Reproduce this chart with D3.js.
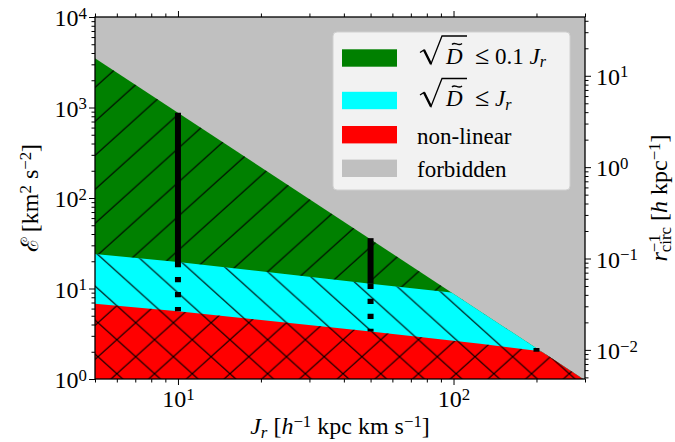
<!DOCTYPE html>
<html>
<head>
<meta charset="utf-8">
<script src="https://cdn.jsdelivr.net/npm/d3@7"></script>
<style>
  body { margin: 0; background: #fff; }
  text { font-family: "Liberation Serif", serif; fill: #000; }
</style>
</head>
<body>
<svg width="675" height="442"></svg>
<script>
// upper edge of the allowed region (above it: forbidden)
var forbiddenJ = [5, 300];
var forbiddenE = [3500, 0.97];
// sqrt(D) <= Jr boundary (top of cyan)
var linearJ = [5, 10, 50, 100, 300];
var linearE = [24, 19.6, 11.3, 9.0, 6.2];
// non-linear boundary (top of red)
var nonlinJ = [5, 10, 50, 125, 200, 300];
var nonlinE = [6.8, 5.6, 3.35, 2.45, 2.05, 1.8];
// black vertical bars: solid from top to mid, dotted from mid to bottom
var barJ = [10, 50, 200];
var barTop = [875, 36, 2.2];
var barMid = [19.6, 11.3, 2.2];
var barBottom = [5.6, 3.35, 2.0];

var xTicks = [10, 100];
var yTicks = [1, 10, 100, 1000, 10000];
var rTicks = [0.01, 0.1, 1, 10];

var legendColors = ["#008000", "#00ffff", "#ff0000", "#c0c0c0"];
var legendLabels = ["\u2264 0.1 ", "\u2264 ", "non-linear", "forbidden"];

var svg = d3.select("svg");
var X0 = 95, X1 = 585, Y0 = 17, Y1 = 379;
var FS = 24;

var x = d3.scaleLog().domain([5, 300]).range([X0, X1]);
var y = d3.scaleLog().domain([1, 1e4]).range([Y1, Y0]);
var yr = d3.scaleLog().domain([0.0048, 44]).range([Y1, Y0]);

var defs = svg.append("defs");
defs.append("clipPath").attr("id", "plot")
    .append("rect").attr("x", X0).attr("y", Y0).attr("width", X1 - X0).attr("height", Y1 - Y0);

var allowed = forbiddenJ.map((j, i) => [x(j), y(forbiddenE[i])]);
defs.append("clipPath").attr("id", "allowed")
    .append("path")
    .attr("d", d3.line()(allowed.concat([[X1, Y1 + 20], [X0, Y1 + 20]])) + "Z");

// hatch patterns
var HW = 37.7, HH = 34;
function hatch(id, d) {
    var p = defs.append("pattern").attr("id", id)
        .attr("patternUnits", "userSpaceOnUse")
        .attr("x", 135.7).attr("y", 322.7)
        .attr("width", HW).attr("height", HH);
    p.append("path").attr("d", d)
        .attr("fill", "none").attr("stroke", "#000").attr("stroke-width", 1.1);
}
var fwd = `M${-HW/2},${HH/2}L${HW/2},${-HH/2}M0,${HH}L${HW},0M${HW/2},${HH*1.5}L${HW*1.5},${HH/2}`;
var back = `M0,0L${HW},${HH}M${HW/2},${-HH/2}L${HW*1.5},${HH/2}M${-HW/2},${HH/2}L${HW/2},${HH*1.5}`;
hatch("h-fwd", fwd);
hatch("h-back", back);
hatch("h-cross", fwd + back);

// background: forbidden
svg.append("rect").attr("x", X0).attr("y", Y0).attr("width", X1 - X0).attr("height", Y1 - Y0)
    .attr("fill", "#c0c0c0");

var regions = svg.append("g").attr("clip-path", "url(#plot)")
    .append("g").attr("clip-path", "url(#allowed)");

var area = d3.area().x(d => x(d[0])).y0(Y1 + 20).y1(d => y(d[1]));

function region(J, E, color, pat) {
    var pts = J.map((j, i) => [j, E[i]]);
    regions.append("path").attr("d", area(pts)).attr("fill", color);
    regions.append("path").attr("d", area(pts)).attr("fill", "url(#" + pat + ")");
}
region([5, 300], [1e5, 1e5], "#008000", "h-fwd");
region(linearJ, linearE, "#00ffff", "h-back");
region(nonlinJ, nonlinE, "#ff0000", "h-cross");

// bars
var bars = barJ.map((j, i) => ({ j: j, top: barTop[i], mid: barMid[i], bot: barBottom[i] }));
var gb = svg.append("g").attr("stroke", "#000").attr("stroke-width", 6);
gb.selectAll(".solid").data(bars).enter().append("line")
    .attr("class", "solid")
    .attr("x1", d => x(d.j)).attr("x2", d => x(d.j))
    .attr("y1", d => y(d.top)).attr("y2", d => y(d.mid));
gb.selectAll(".dot").data(bars).enter().append("line")
    .attr("class", "dot")
    .attr("stroke-dasharray", "5.3,9.7")
    .attr("x1", d => x(d.j)).attr("x2", d => x(d.j))
    .attr("y1", d => y(d.mid)).attr("y2", d => y(d.bot));

// text helpers
function mathText(t, parts, size) {
    var cur = 0, out = [];
    parts.forEach(function (p) {
        var shift = p.sup ? -0.31 * size : p.sub ? 0.15 * size : 0;
        var ts = t.append("tspan").text(p.t);
        if (shift - cur !== 0) ts.attr("dy", shift - cur);
        if (p.sup || p.sub) ts.attr("font-size", size * 0.7);
        if (p.it) ts.attr("font-style", "italic");
        cur = shift;
        out.push(ts);
    });
    return out;
}
function isMajor(v) { return Math.abs(Math.log10(v) - Math.round(Math.log10(v))) < 1e-6; }
function powLabel(sel, v) {
    var e = Math.round(Math.log10(v));
    sel.text(null);
    mathText(sel, [{ t: "10" }, { t: String(e).replace("-", "\u2212"), sup: true }], FS);
}

// axes
function axis(gen, scale, majors, tr, labelFn) {
    var minors = scale.ticks().filter(v => !isMajor(v));
    var g = svg.append("g").attr("transform", tr);
    g.append("g").call(gen(scale).tickValues(minors).tickSize(3.5).tickFormat(""))
        .call(s => s.select(".domain").remove());
    var gm = g.append("g").call(gen(scale).tickValues(majors).tickSize(6))
        .call(s => s.select(".domain").remove())
        .attr("font-size", FS).attr("font-family", "Liberation Serif, serif");
    gm.selectAll(".tick text").each(function (d) {
        var t = d3.select(this);
        if (labelFn) { labelFn(t); powLabel(t, d); } else t.remove();
    });
    g.selectAll(".tick line").attr("stroke-width", 1);
}
axis(d3.axisBottom, x, xTicks, `translate(0,${Y1})`, t => t.attr("y", 28).attr("dy", null));
axis(d3.axisTop, x, xTicks, `translate(0,${Y0})`, null);
axis(d3.axisLeft, y, yTicks, `translate(${X0},0)`, t => t.attr("x", -8).attr("dy", "0.36em"));
axis(d3.axisRight, yr, rTicks, `translate(${X1},0)`, t => t.attr("x", 11).attr("dy", "0.36em"));

svg.append("rect").attr("x", X0).attr("y", Y0).attr("width", X1 - X0).attr("height", Y1 - Y0)
    .attr("fill", "none").attr("stroke", "#000").attr("stroke-width", 1.3);

// axis labels
var xl = svg.append("text").attr("x", (X0 + X1) / 2).attr("y", 434)
    .attr("text-anchor", "middle").attr("font-size", FS);
mathText(xl, [{ t: "J", it: true }, { t: "r", it: true, sub: true }, { t: " [" }, { t: "h", it: true },
    { t: "\u22121", sup: true }, { t: " kpc km s" }, { t: "\u22121", sup: true }, { t: "]" }], FS);

var yl = svg.append("text").attr("transform", `translate(38,${(Y0 + Y1) / 2}) rotate(-90)`)
    .attr("text-anchor", "middle").attr("font-size", FS);
mathText(yl, [{ t: "\u2130" }, { t: " [km" }, { t: "2", sup: true }, { t: " s" },
    { t: "\u22122", sup: true }, { t: "]" }], FS);

var rl = svg.append("text").attr("transform", `translate(667,${(Y0 + Y1) / 2}) rotate(-90)`)
    .attr("text-anchor", "middle").attr("font-size", FS);
var rp = mathText(rl, [{ t: "r", it: true }, { t: "\u22121", sup: true }, { t: "circ", sub: true },
    { t: " [" }, { t: "h", it: true }, { t: " kpc" }, { t: "\u22121", sup: true }, { t: "]" }], FS);
rp[2].attr("dx", -rp[1].node().getComputedTextLength());

// legend
var lg = svg.append("g");
lg.append("rect").attr("x", 333).attr("y", 32).attr("width", 237).attr("height", 158).attr("rx", 4)
    .attr("fill", "#f2f2f2").attr("stroke", "#d0d0d0").attr("stroke-width", 1);
var rowY = [58, 100.5, 134.7, 168.3];
var baseY = [63.5, 106, 144, 177];
legendColors.forEach(function (c, i) {
    lg.append("rect").attr("x", 342).attr("y", rowY[i] - 8.7).attr("width", 55).attr("height", 17.4)
        .attr("fill", c);
    var b = baseY[i];
    if (i < 2) {
        lg.append("path")
            .attr("d", `M420,${b - 11}L424,${b - 13.5}L431,${b + 0.5}L442,${b - 27.5}L467,${b - 27.5}`)
            .attr("fill", "none").attr("stroke", "#000").attr("stroke-width", 1.3)
            .attr("stroke-linejoin", "miter");
        lg.append("path").attr("d", `M424,${b - 13.5}L431,${b + 0.5}`)
            .attr("stroke", "#000").attr("stroke-width", 2.4);
        lg.append("text").attr("x", 446).attr("y", b).attr("font-size", 23)
            .attr("font-style", "italic").text("D");
        lg.append("path").attr("d", `M452,${b - 19}C455,${b - 22.5} 458,${b - 16.5} 462,${b - 20}`)
            .attr("fill", "none").attr("stroke", "#000").attr("stroke-width", 1.3);
        var t = lg.append("text").attr("x", 475).attr("y", b).attr("font-size", 23);
        t.append("tspan").attr("font-size", 26).text(legendLabels[i].slice(0, 1));
        t.append("tspan").text(legendLabels[i].slice(1));
        t.append("tspan").attr("font-style", "italic").text("J");
        t.append("tspan").attr("font-style", "italic").attr("font-size", 16).attr("dy", 3.5).text("r");
    } else {
        lg.append("text").attr("x", 417).attr("y", b).attr("font-size", 23).text(legendLabels[i]);
    }
});
</script>
</body>
</html>
